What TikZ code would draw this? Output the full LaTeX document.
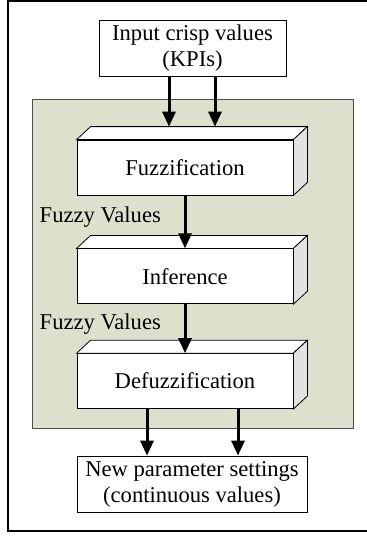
\documentclass[tikz,border=0pt]{standalone}
\usepackage{fontspec}
\setmainfont{Liberation Serif}
\usetikzlibrary{arrows.meta,positioning}
\definecolor{panelgreen}{RGB}{221,224,204}
\definecolor{sidegray}{RGB}{226,226,226}
\tikzstyle{io}=[draw,fill=white,minimum height=28pt,inner sep=0pt,align=center]
\tikzstyle{blk}=[draw,fill=white,minimum width=108pt,minimum height=27.5pt]
\tikzstyle{arr}=[-{Triangle[length=7.5pt,width=6.5pt]},line width=1.5pt]

\begin{document}
\begin{tikzpicture}[x=0.5pt,y=-0.5pt,node distance=26pt,
    every node/.style={font=\fontsize{11.3}{13}\selectfont}]
    \useasboundingbox (0,0) rectangle (367,536);
    \draw[line width=1pt] (8,1) rectangle (380,531);
    \draw[fill=panelgreen,draw=black!70] (32,99) rectangle (353,428);

    \node [io,minimum width=93.5pt] (input) at (192.5,48) {Input crisp values\\(KPIs)};
    \node [blk] (fuzz) at (185,167.5) {Fuzzification};
    \node [blk] (infer) [below=26.5pt of fuzz] {Inference};
    \node [blk] (defuzz) [below=24.5pt of infer] {Defuzzification};
    \node [io,minimum width=115pt] (output) at (192,484) {New parameter settings\\(continuous values)};

    % top and side faces of the blocks
    \foreach \b in {fuzz,infer,defuzz} {
      \draw[fill=white] (\b.north west) -- ++(7pt,6.5pt) -- ([shift={(7pt,6.5pt)}]\b.north east) -- (\b.north east) -- cycle;
      \draw[fill=sidegray] (\b.north east) -- ++(7pt,6.5pt) -- ([shift={(7pt,6.5pt)}]\b.south east) -- (\b.south east) -- cycle;
    }
    \coordinate (fz-top) at ([yshift=6.5pt]fuzz.north);

    \draw[arr] ([xshift=-11.75pt]input.south) -- ([xshift=-11.75pt]input.south |- fz-top);
    \draw[arr] ([xshift=11.25pt]input.south) -- ([xshift=11.25pt]input.south |- fz-top);
    \draw[arr] (fuzz) -- (infer) node[left=8pt,pos=0.4] {Fuzzy Values};
    \draw[arr] (infer) -- (defuzz) node[left=8pt,pos=0.4] {Fuzzy Values};
    \draw[arr] ([xshift=-22.5pt]output.north |- defuzz.south) -- ([xshift=-22.5pt]output.north);
    \draw[arr] ([xshift=23pt]output.north |- defuzz.south) -- ([xshift=23pt]output.north);
\end{tikzpicture}
\end{document}
